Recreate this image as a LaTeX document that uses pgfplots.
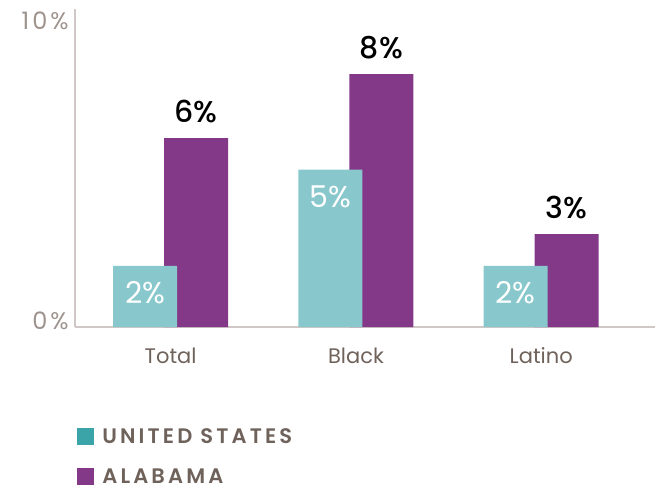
\documentclass[border=0pt]{standalone}
\usepackage{fontspec}
\setmainfont{Poppins}
\newfontfamily\legfont[LetterSpace=15]{Poppins SemiBold}
\newfontfamily\tickfont[LetterSpace=12]{Poppins}
\newfontfamily\medfont{Poppins Medium}
\usepackage{pgfplots}
\pgfplotsset{compat=1.18}
\definecolor{usbar}{HTML}{88C8CC}
\definecolor{uslegend}{HTML}{3AA4A8}
\definecolor{albar}{HTML}{833888}
\definecolor{axisgray}{HTML}{CFC8C6}
\definecolor{tickgray}{HTML}{9E938D}
\definecolor{catbrown}{HTML}{6F625B}
\begin{document}
\begin{tikzpicture}[x=1pt,y=1pt]
\useasboundingbox (0,0) rectangle (656,490);
\begin{axis}[
  at={(75pt,163pt)}, anchor=south west,
  scale only axis, width=580pt, height=318pt,
  xmin=-0.516, xmax=2.614, ymin=0, ymax=10.1,
  axis x line=bottom, axis y line=left,
  axis line style={draw=axisgray, line width=2pt, -},
  xtick={0,1,2}, xticklabels={Total,Black,Latino},
  ytick={0.2,9.72}, yticklabels={0\%,10\%},
  major tick length=0pt,
  xticklabel style={font=\fontsize{21}{24}\selectfont, text=catbrown, yshift=-17pt},
  yticklabel style={font=\tickfont\fontsize{24}{26}\selectfont, text=tickgray, xshift=-3pt},
  /pgf/number format/assume math mode=true,
  clip=false,
  legend style={at={(0.003,-0.317)}, anchor=north west, draw=none, fill=none,
    inner sep=0pt, row sep=24pt, font=\legfont\fontsize{21}{24}\selectfont, text=catbrown,
    legend cell align=left, nodes={inner xsep=9pt, inner ysep=0pt, text depth=0pt}},
  point meta=explicit symbolic,
]
\addlegendimage{legend image code/.code={\fill[uslegend] (0pt,-8pt) rectangle (16pt,8pt);}}
\addlegendentry{UNITED STATES}
\addlegendimage{legend image code/.code={\fill[albar] (0pt,-8pt) rectangle (16pt,8pt);}}
\addlegendentry{ALABAMA}
\addplot[forget plot, ybar, bar width=64pt, bar shift=25.5pt, fill=albar, draw=none,
  nodes near coords, every node near coord/.style={anchor=center, xshift=25.5pt, yshift=27pt, text=black, font=\medfont\fontsize{30}{32}\selectfont}]
  coordinates {(0,6.0) [6\%] (1,8.03) [8\%] (2,2.95) [3\%]};
\addplot[forget plot, ybar, bar width=64pt, bar shift=-25.5pt, fill=usbar, draw=none,
  nodes near coords, every node near coord/.style={anchor=center, xshift=-25.5pt, yshift=-27pt, text=white, font=\fontsize{30}{32}\selectfont}]
  coordinates {(0,1.94) [2\%] (1,5.0) [5\%] (2,1.94) [2\%]};
\end{axis}
\end{tikzpicture}
\end{document}
